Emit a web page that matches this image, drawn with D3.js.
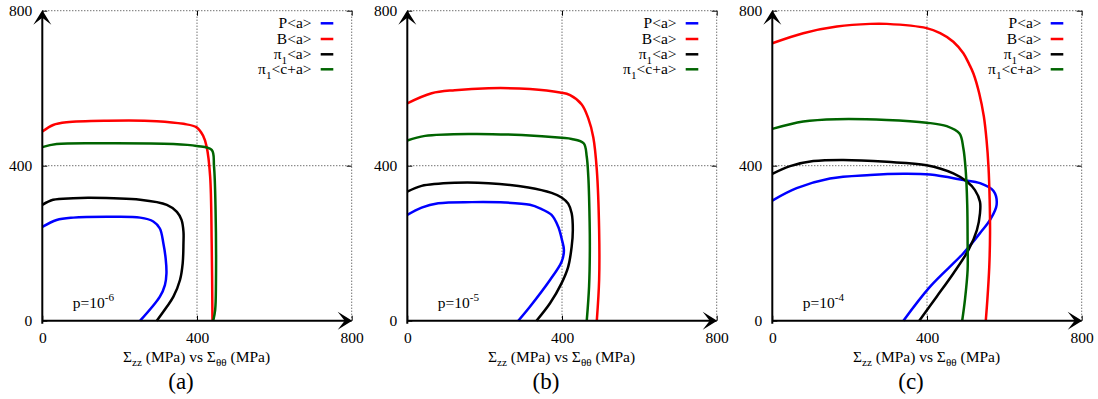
<!DOCTYPE html>
<html>
<head>
<meta charset="utf-8">
<script src="https://cdn.jsdelivr.net/npm/d3@7"></script>
<style>
  html, body { margin: 0; padding: 0; background: #fff; }
  svg text { font-family: "Liberation Serif", "DejaVu Serif", "Noto Serif", serif; fill: #000; }
</style>
</head>
<body>
<svg id="chart" width="1098" height="399"></svg>
<script>
// ---------- data ----------
const xTicks = [0, 400, 800];
const yTicks = [0, 400, 800];
const gridValues = [400, 800];
const panelLabels = ["(a)", "(b)", "(c)"];
const pExponents = ["-6", "-5", "-4"];
const seriesNames = ["P<a>", "B<a>", "π1<a>", "π1<c+a>"];

// panel (a) p=1e-6   [Σzz, Σθθ]
const aP    = [[0,242],[37,260],[80,266],[167,268],[253,266],[287,256],[304,238],[313,200],[319,160],[321,122],[317,92],[304,62],[253,0]];
const aB    = [[0,488],[28,505],[63,512],[167,516],[296,515],[365,508],[399,499],[416,477],[425,449],[434,372],[438,200],[440,0]];
const aPi   = [[0,299],[28,312],[80,316],[123,317],[253,312],[322,299],[348,281],[360,260],[365,230],[365,200],[363,148],[356,105],[339,62],[322,36],[296,0]];
const aPiCA = [[0,448],[37,456],[167,458],[339,456],[399,451],[438,441],[444,398],[448,286],[449,97],[447,28],[442,0]];

// panel (b) p=1e-5
const bP    = [[0,273],[37,292],[80,303],[167,306],[253,305],[317,299],[343,290],[373,273],[390,243],[400,208],[405,182],[399,152],[369,105],[317,36],[287,0]];
const bB    = [[0,561],[63,587],[123,595],[210,600],[317,598],[395,589],[421,582],[451,558],[468,522],[481,473],[490,389],[496,234],[496,105],[490,0]];
const bPi   = [[0,333],[37,348],[123,356],[210,355],[313,344],[373,330],[399,318],[416,302],[425,277],[428,234],[425,191],[416,139],[399,97],[369,45],[334,0]];
const bPiCA = [[0,465],[46,477],[167,482],[296,479],[399,472],[425,469],[456,458],[464,423],[468,372],[470,320],[472,191],[470,88],[464,0]];

// panel (c) p=1e-4
const cP    = [[0,310],[63,342],[149,367],[253,376],[339,379],[408,377],[494,363],[537,355],[572,335],[580,299],[563,260],[537,226],[494,174],[408,88],[339,0]];
const cB    = [[0,716],[80,742],[167,759],[253,766],[296,766],[399,755],[434,742],[468,720],[494,690],[509,662],[520,638],[535,587],[547,527],[554,466],[559,397],[562,312],[563,225],[561,139],[556,53],[552,0]];
const cPi   = [[0,379],[46,399],[106,412],[184,415],[296,410],[399,401],[468,380],[503,359],[524,337],[537,307],[537,277],[529,234],[507,182],[468,122],[425,62],[380,0]];
const cPiCA = [[0,495],[80,514],[167,520],[296,518],[399,511],[451,502],[484,483],[494,445],[500,389],[504,300],[505,200],[505,131],[498,53],[491,0]];

const panelSeries = [
  [aP, aB, aPi, aPiCA],
  [bP, bB, bPi, bPiCA],
  [cP, cB, cPi, cPiCA]
];

// ---------- styles ----------
const colors = ["#0000ff", "#ff0000", "#000000", "#006400"];
const panelOffset = 365;
const FONT = "'Liberation Serif', 'DejaVu Serif', 'Noto Serif', serif";

const svg = d3.select("#chart");

const x = d3.scaleLinear().domain([0, 800]).range([42.3, 351.7]);
const y = d3.scaleLinear().domain([0, 800]).range([320.7, 10.7]);

const line = d3.line()
  .x(d => x(d[0]))
  .y(d => y(d[1]))
  .curve(d3.curveCatmullRom.alpha(0.5));

function addSubText(sel, parts, baseSize) {
  let shift = 0;
  parts.forEach(([t, kind]) => {
    const ts = sel.append("tspan").text(t);
    let target = 0;
    if (kind === "sub") { target = baseSize * 0.28; ts.attr("font-size", baseSize * 0.72); }
    if (kind === "sup") { target = -baseSize * 0.42; ts.attr("font-size", baseSize * 0.72); }
    ts.attr("dy", target - shift);
    shift = target;
  });
}

panelSeries.forEach((series, i) => {
  const g = svg.append("g").attr("transform", `translate(${i * panelOffset},0)`);

  // dotted grid & border
  const grid = g.append("g").attr("stroke", "#333").attr("stroke-width", 1)
    .attr("stroke-dasharray", "1,2").attr("fill", "none");
  gridValues.forEach(v => {
    grid.append("line").attr("x1", x(v)).attr("x2", x(v)).attr("y1", y(0)).attr("y2", y(800));
    grid.append("line").attr("x1", x(0)).attr("x2", x(800)).attr("y1", y(v)).attr("y2", y(v));
  });

  const fontSize = 15.5;
  const xAxis = g.append("g").attr("transform", `translate(0,${y(0)})`)
    .call(d3.axisBottom(x).tickValues(xTicks).tickSizeInner(-5).tickSizeOuter(0).tickPadding(11));
  const yAxis = g.append("g").attr("transform", `translate(${x(0)},0)`)
    .call(d3.axisLeft(y).tickValues(yTicks).tickSizeInner(-5).tickSizeOuter(0).tickPadding(10));
  const topAxis = g.append("g").attr("transform", `translate(0,${y(800)})`)
    .call(d3.axisTop(x).tickValues(xTicks).tickSizeInner(-5).tickSizeOuter(0).tickFormat(""));
  const rightAxis = g.append("g").attr("transform", `translate(${x(800)},0)`)
    .call(d3.axisRight(y).tickValues(yTicks).tickSizeInner(-5).tickSizeOuter(0).tickFormat(""));
  [xAxis, yAxis, topAxis, rightAxis].forEach(a => {
    a.attr("font-family", FONT).attr("font-size", fontSize);
    a.select(".domain").remove();
    a.selectAll("line").attr("stroke", "#000").attr("stroke-width", 1);
    a.selectAll("text").attr("fill", "#000");
  });

  // curves
  series.forEach((data, k) => {
    g.append("path").datum(data)
      .attr("fill", "none")
      .attr("stroke", colors[k])
      .attr("stroke-width", 2.5)
      .attr("stroke-linejoin", "round")
      .attr("d", line);
  });

  // main axis lines with arrow heads
  g.append("line").attr("x1", x(0)).attr("x2", x(800) - 4)
    .attr("y1", y(0)).attr("y2", y(0)).attr("stroke", "#000").attr("stroke-width", 2);
  g.append("line").attr("x1", x(0)).attr("x2", x(0))
    .attr("y1", y(0) + 3).attr("y2", y(800) + 4).attr("stroke", "#000").attr("stroke-width", 2);
  const ax = x(0), ay = y(800);
  g.append("path")
    .attr("d", `M${ax},${ay - 0.5} L${ax - 9},${ay + 14} L${ax},${ay + 7} L${ax + 9},${ay + 14} Z`)
    .attr("fill", "#000");
  const bx = x(800), by = y(0);
  g.append("path")
    .attr("d", `M${bx + 0.5},${by} L${bx - 14},${by - 9} L${bx - 7},${by} L${bx - 14},${by + 9} Z`)
    .attr("fill", "#000");

  // legend
  const legY = [23.3, 39, 54.3, 69.3];
  seriesNames.forEach((name, k) => {
    const t = g.append("text")
      .attr("x", 311.5).attr("y", legY[k] + 5)
      .attr("text-anchor", "end")
      .attr("font-family", FONT)
      .attr("font-size", fontSize);
    if (name.startsWith("π1")) {
      addSubText(t, [["π", "n"], ["1", "sub"], [name.slice(2), "n"]], fontSize);
    } else {
      t.text(name);
    }
    g.append("line").attr("x1", 320.7).attr("x2", 333.3)
      .attr("y1", legY[k]).attr("y2", legY[k])
      .attr("stroke", colors[k]).attr("stroke-width", 2.5);
  });

  // p label
  const pt = g.append("text").attr("x", x(79)).attr("y", y(33))
    .attr("font-family", FONT).attr("font-size", fontSize);
  addSubText(pt, [["p=10", "n"], [pExponents[i], "sup"]], fontSize);

  // x title
  const tt = g.append("text").attr("x", 196.5).attr("y", 362)
    .attr("text-anchor", "middle").attr("font-family", FONT).attr("font-size", fontSize);
  addSubText(tt, [["Σ", "n"], ["zz", "sub"], [" (MPa) vs Σ", "n"], ["θθ", "sub"], [" (MPa)", "n"]], fontSize);

  // panel label
  g.append("text").attr("x", 181).attr("y", 389)
    .attr("text-anchor", "middle").attr("font-family", FONT).attr("font-size", 23)
    .text(panelLabels[i]);
});
</script>
</body>
</html>
